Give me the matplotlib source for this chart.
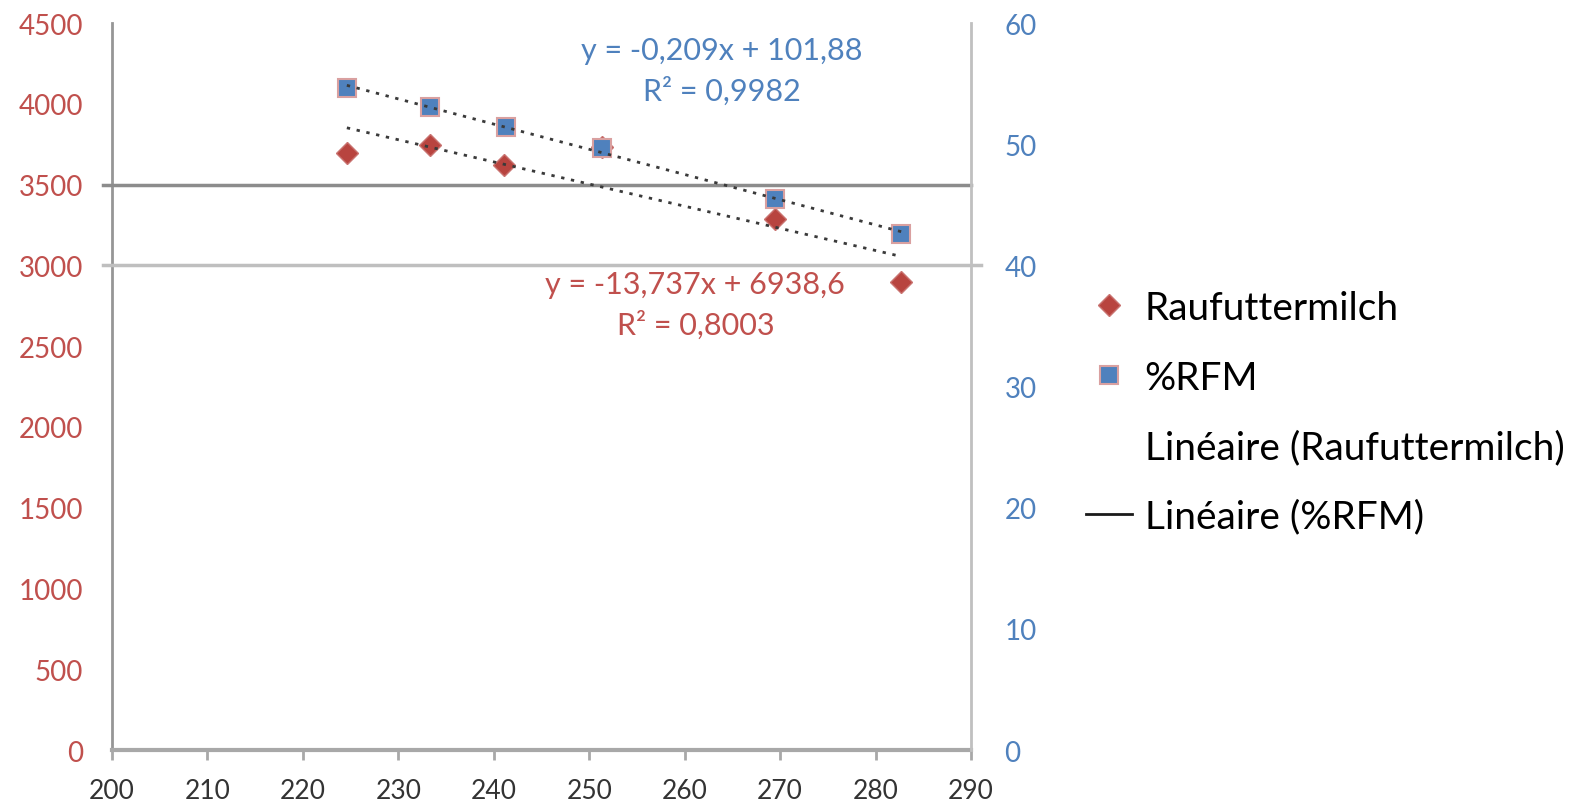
import numpy as np
import matplotlib
matplotlib.use("Agg")
import matplotlib.pyplot as plt
from matplotlib.lines import Line2D

plt.rcParams['font.family'] = ['Lato', 'DejaVu Sans']

# data (one Raufuttermilch point sits behind a %RFM square)
rfm_x = [224.6, 233.3, 241.1, 251.3, 269.5, 282.7]
rfm_milk = [3697, 3747, 3622, 3730, 3289, 2900]     # Raufuttermilch (left axis)
pct_x = [224.6, 233.3, 241.3, 251.3, 269.5, 282.7]
pct_rfm = [54.6, 53.1, 51.4, 49.7, 45.5, 42.6]      # %RFM (right axis)

x_ticks = list(range(200, 300, 10))
left_ticks = list(range(0, 5000, 500))
right_ticks = list(range(0, 70, 10))

eq_rfm = "y = -13,737x + 6938,6\nR² = 0,8003"
eq_pct = "y = -0,209x + 101,88\nR² = 0,9982"

red = '#C0504D'
blue = '#4F81BD'

fig = plt.figure(figsize=(15.87, 8.04), dpi=100)
ax = fig.add_axes([0.0706, 0.0659, 0.5413, 0.9042])
ax2 = ax.twinx()

# scatter points
ax.plot(rfm_x, rfm_milk, linestyle='none', marker='D', markersize=11,
        color='#B8443F', markeredgecolor='#C97370', markeredgewidth=1, zorder=3)
ax2.plot(pct_x, pct_rfm, linestyle='none', marker='s', markersize=13,
         color=blue, markeredgecolor='#D9A0A0', markeredgewidth=1.5, zorder=4)

# linear trendlines
p1 = np.polyfit(rfm_x, rfm_milk, 1)
xs1 = np.array([rfm_x[0], rfm_x[-1]])
ax2.plot(xs1, np.polyval(p1, xs1) / 75, color='#3a3a3a', lw=2, linestyle=(0, (1.2, 2.4)), zorder=5)
p2 = np.polyfit(pct_x, pct_rfm, 1)
xs2 = np.array([pct_x[0], pct_x[-1]])
ax2.plot(xs2, np.polyval(p2, xs2), color='#3a3a3a', lw=2, linestyle=(0, (1.2, 2.4)), zorder=5)

# the two horizontal lines
ax2.plot([-0.01, 1.0], [3500 / 75, 3500 / 75], transform=ax2.get_yaxis_transform(),
         color='#8c8c8c', lw=2.5, clip_on=False, zorder=1)
ax2.plot([-0.01, 1.012], [40, 40], transform=ax2.get_yaxis_transform(),
         color='#bfbfbf', lw=2.5, clip_on=False, zorder=1)

ax.set_xlim(200, 290)
ax.set_ylim(0, 4500)
ax2.set_ylim(0, 60)
ax.set_xticks(x_ticks)
ax.set_yticks(left_ticks)
ax2.set_yticks(right_ticks)

ax.spines['top'].set_visible(False)
ax2.spines['top'].set_visible(False)
ax.spines['left'].set_color('#969696')
ax.spines['left'].set_linewidth(2)
ax2.spines['left'].set_visible(False)
ax2.spines['right'].set_color('#c0c0c0')
ax2.spines['right'].set_linewidth(2)
ax.spines['right'].set_visible(False)
ax2.spines['bottom'].set_visible(False)
ax.spines['bottom'].set_color('#a8a8a8')
ax.spines['bottom'].set_linewidth(3)

ax.tick_params(axis='y', length=0, pad=21, labelsize=20, labelcolor=red)
ax2.tick_params(axis='y', length=0, pad=24, labelsize=20, labelcolor=blue)
ax.tick_params(axis='x', length=7, width=2, color='#a8a8a8', pad=13,
               labelsize=19, labelcolor='#333333')

# trendline equations
ax2.text(0.710, 0.935, eq_pct, transform=ax2.transAxes, ha='center', va='center',
         color=blue, fontsize=22, linespacing=1.5)
ax2.text(0.679, 0.613, eq_rfm, transform=ax2.transAxes, ha='center', va='center',
         color=red, fontsize=22, linespacing=1.5)

handles = [
    Line2D([], [], linestyle='none', marker='D', markersize=11, color='#B8443F',
           markeredgecolor='#C97370'),
    Line2D([], [], linestyle='none', marker='s', markersize=13, color=blue,
           markeredgecolor='#D9A0A0', markeredgewidth=1.5),
    Line2D([], [], color='none'),
    Line2D([], [], color='#1a1a1a', lw=2),
]
labels = ['Raufuttermilch', '%RFM', 'Linéaire (Raufuttermilch)', 'Linéaire (%RFM)']
fig.legend(handles, labels, loc='center left', bbox_to_anchor=(0.672, 0.486),
           frameon=False, fontsize=28, handlelength=1.18, handletextpad=0.33,
           labelspacing=0.86, borderpad=0)

fig.savefig('out.png', dpi=100)
